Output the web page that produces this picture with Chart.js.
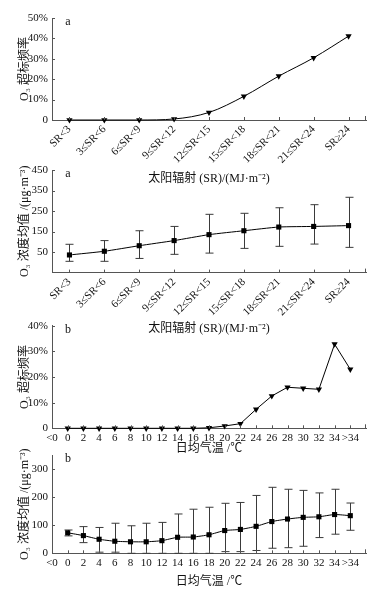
<!DOCTYPE html>
<html><head><meta charset="utf-8">
<script src="https://cdn.jsdelivr.net/npm/chart.js@4"></script>
<style>
html,body{margin:0;padding:0;background:#fff;width:381px;height:593px;overflow:hidden;position:relative}
canvas{position:absolute;left:0;display:block}
</style></head><body>
<canvas id="c1" width="381" height="190" style="top:0px"></canvas>
<canvas id="c2" width="381" height="190" style="top:150px"></canvas>
<canvas id="c3" width="381" height="155" style="top:305px"></canvas>
<canvas id="c4" width="381" height="158" style="top:435px"></canvas>
<script>
// ---------- data ----------
const srCategories = ['SR<3','3≤SR<6','6≤SR<9','9≤SR<12','12≤SR<15','15≤SR<18','18≤SR<21','21≤SR<24','SR≥24'];
const srExceedRate = [0, 0, 0, 0.5, 3.7, 11.6, 21.5, 30.5, 41.1];      // %
const srMean  = [36, 54, 81, 106, 135, 154, 172, 175, 179];            // μg/m3
const srUpper = [88, 106, 154, 175, 234, 239, 266, 281, 317];
const srLower = [5, 5, 19, 39, 45, 68, 78, 89, 73];

const tempCategories = ['<0','0','2','4','6','8','10','12','14','16','18','20','22','24','26','28','30','32','34','>34'];
const tempExceedRate = [null,0,0,0,0,0,0,0,0,0,0.2,0.9,1.8,7.4,12.6,16.0,15.6,15.2,32.8,23.0];
const tempMean  = [null,73,63,50,43,41,41,45,57,58,66,81,85,96,113,122,128,130,138,134];
const tempUpper = [null,83,95,92,107,98,107,110,140,157,164,178,181,206,235,228,224,215,228,179];
const tempLower = [null,62,38,4,4,0,0,0,0,0,0,6,6,10,18,20,25,56,68,82];

const srTitle = '太阳辐射 (SR)/(MJ·m⁻²)';
const tempTitle = '日均气温 /℃';
const rateTitle = 'O₃ 超标频率';
const concTitle = 'O₃ 浓度均值 /(μg·m⁻³)';

// ---------- styling ----------
const FAM = "'Liberation Serif','Noto Sans CJK SC',serif";
Chart.defaults.font.family = FAM;
Chart.defaults.color = '#111';
const AXIS = '#555';

const decor = {
  id: 'decor',
  beforeDatasetsDraw(chart, args, opts) {
    if (!opts.upper) return;
    const ctx = chart.ctx, ys = chart.scales.y, meta = chart.getDatasetMeta(0);
    ctx.save();
    ctx.strokeStyle = '#3a3a3a'; ctx.lineWidth = 1;
    opts.upper.forEach((u, i) => {
      if (u == null) return;
      const x = Math.round(meta.data[i].x) + 0.5;
      const yt = ys.getPixelForValue(u), yb = ys.getPixelForValue(opts.lower[i]);
      ctx.beginPath();
      ctx.moveTo(x, yt); ctx.lineTo(x, yb);
      ctx.moveTo(x - 4, yt); ctx.lineTo(x + 4, yt);
      ctx.moveTo(x - 4, yb); ctx.lineTo(x + 4, yb);
      ctx.stroke();
    });
    ctx.restore();
  },
  afterDraw(chart, args, opts) {
    const ctx = chart.ctx, xs = chart.scales.x, ys = chart.scales.y, ca = chart.chartArea;
    ctx.save();
    ctx.strokeStyle = AXIS; ctx.lineWidth = 1;
    ctx.beginPath();
    xs.ticks.forEach((t, i) => {
      const x = Math.round(xs.getPixelForTick(i)) + 0.5;
      ctx.moveTo(x, ca.bottom); ctx.lineTo(x, ca.bottom - 3);
    });
    ctx.moveTo(ca.right - 0.5, ca.bottom); ctx.lineTo(ca.right - 0.5, ca.bottom - 4);
    ys.ticks.forEach((t, i) => {
      if (t.value < 0) return;
      const y = Math.round(ys.getPixelForTick(i)) + 0.5;
      ctx.moveTo(ca.left, y); ctx.lineTo(ca.left + 3, y);
    });
    ctx.stroke();
    ctx.fillStyle = '#111';
    ctx.font = '12px ' + FAM;
    ctx.textBaseline = 'middle'; ctx.textAlign = 'center';
    ctx.fillText(opts.tag, ca.left + 16, ca.top + 4);
    ctx.restore();
  }
};

function yScale(min, max, step, fmt, title) {
  return {
    min, max,
    afterFit: s => { s.width = 52; },
    ticks: { stepSize: step, padding: 4, font: { size: 11 }, color: '#111', callback: fmt },
    grid: { display: true, drawOnChartArea: false, drawTicks: false },
    border: { display: true, color: AXIS, width: 1 },
    title: { display: true, text: title, font: { size: 12 }, color: '#111', padding: { top: 18, bottom: 0 } }
  };
}

function srX(h) {
  return {
    type: 'category', offset: true,
    afterFit: s => { s.height = h; },
    ticks: { autoSkip: false, minRotation: 45, maxRotation: 45, padding: 3, font: { size: 11 }, color: '#111' },
    grid: { display: true, drawOnChartArea: false, drawTicks: false, offset: false },
    border: { display: true, color: AXIS, width: 1 },
    title: { display: true, text: srTitle, font: { size: 12 }, color: '#111', padding: { top: 0, bottom: 4 } }
  };
}

function tempX(h) {
  return {
    type: 'linear', min: -2, max: 38,
    afterFit: s => { s.height = h; },
    afterBuildTicks: s => { s.ticks = tempCategories.map((c, i) => ({ value: -2 + 2 * i })); },
    ticks: { autoSkip: false, maxRotation: 0, minRotation: 0, padding: 3, font: { size: 11 }, color: '#111',
      callback: (v, i) => tempCategories[i] },
    grid: { display: true, drawOnChartArea: false, drawTicks: false },
    border: { display: true, color: AXIS, width: 1 },
    title: { display: true, text: tempTitle, font: { size: 12 }, color: '#111', padding: { top: 0, bottom: 4 } }
  };
}

function baseOpts(pad, x, y, decorOpts) {
  return {
    responsive: false, animation: false,
    layout: { padding: { top: pad, right: 15, left: 0, bottom: 0 } },
    plugins: { legend: { display: false }, tooltip: { enabled: false }, decor: decorOpts },
    scales: { x, y }
  };
}

const pct = v => v === 0 ? '0' : v + '%';
const num = v => v < 0 ? '' : String(v);

function lineDs(data, style, tension, mono) {
  return {
    data, borderColor: '#000', borderWidth: 1, backgroundColor: '#000',
    pointStyle: style, pointRotation: style === 'triangle' ? 180 : 0,
    pointRadius: 3.6, pointBorderWidth: 0, pointBackgroundColor: '#000',
    tension, cubicInterpolationMode: mono ? 'monotone' : 'default', clip: false
  };
}

// Panel 1
new Chart(document.getElementById('c1'), {
  type: 'line',
  data: { labels: srCategories, datasets: [lineDs(srExceedRate, 'triangle', 0.4, true)] },
  options: baseOpts(18, srX(70), yScale(0, 50, 10, pct, rateTitle), { tag: 'a' }),
  plugins: [decor]
});
// Panel 2
new Chart(document.getElementById('c2'), {
  type: 'line',
  data: { labels: srCategories, datasets: [lineDs(srMean, 'rect', 0.2, false)] },
  options: baseOpts(20, srX(67.4), yScale(-50, 450, 50, num, concTitle), { tag: 'a', upper: srUpper, lower: srLower }),
  plugins: [decor]
});
// Panel 3
new Chart(document.getElementById('c3'), {
  type: 'line',
  data: { datasets: [lineDs(tempExceedRate.map((v, i) => ({ x: -2 + 2 * i, y: v })), 'triangle', 0, false)] },
  options: baseOpts(20.7, tempX(31.7), yScale(0, 40, 5, pct, rateTitle), { tag: 'b' }),
  plugins: [decor]
});
// Panel 4
new Chart(document.getElementById('c4'), {
  type: 'line',
  data: { datasets: [lineDs(tempMean.map((v, i) => ({ x: -2 + 2 * i, y: v })), 'rect', 0.2, false)] },
  options: baseOpts(20, tempX(39.7), yScale(0, 350, 50, num, concTitle), { tag: 'b', upper: tempUpper, lower: tempLower }),
  plugins: [decor]
});
</script>
</body></html>
